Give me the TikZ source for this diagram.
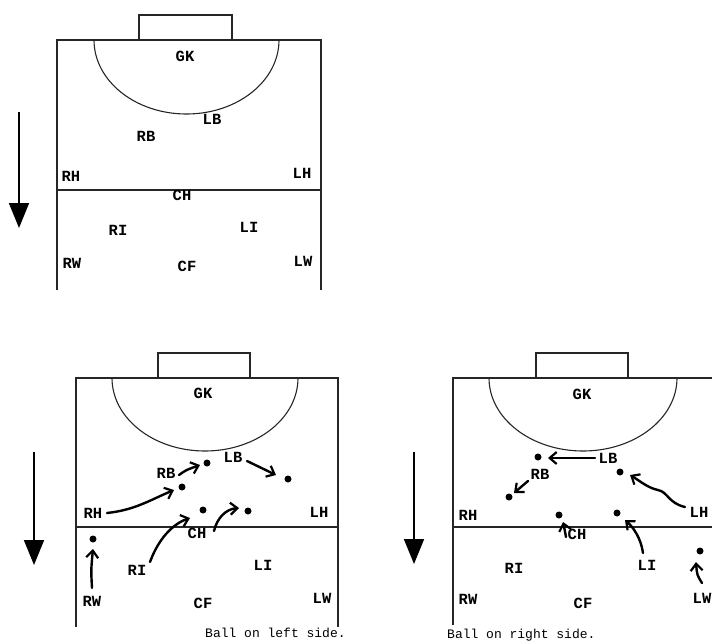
\documentclass[tikz,border=0pt]{standalone}
\usepackage{fontspec}
\setmonofont{Liberation Mono}
\usetikzlibrary{arrows.meta}
\begin{document}
\begin{tikzpicture}[x=1pt,y=-1pt,
  lbl/.style={font=\ttfamily\bfseries\fontsize{15.5}{17}\selectfont, inner sep=0pt},
  captxt/.style={font=\ttfamily\fontsize{13}{15}\selectfont, inner sep=0pt, anchor=west},
  field/.style={line width=1.1pt, draw=black!85},
  dot/.style={circle, fill=black, inner sep=0pt, minimum size=7pt},
  mv/.style={line width=2.4pt, line cap=round, -{Straight Barb[length=7pt,width=12pt,line width=2.2pt]}},
  dirarrow/.style={line width=1.7pt, -{Triangle[length=25pt,width=20pt]}}]
\useasboundingbox (0,0) rectangle (712,641);

% ================= top diagram =================
\draw[field] (139,40) -- (139,15) -- (232,15) -- (232,40);
\draw[field] (57,290) -- (57,40) -- (321,40) -- (321,290);
\draw[field] (57,190) -- (321,190);
\draw[field] (94,40) arc[start angle=180,end angle=360,x radius=92.5pt,y radius=74pt];
\coordinate (a1s) at (19,112); \coordinate (a1e) at (19,228);
\draw[dirarrow] (a1s) -- (a1e);
\node[lbl] (tGK) at (185,56) {GK};
\node[lbl] (tLB) at (212,119) {LB};
\node[lbl] (tRB) at (146,136) {RB};
\node[lbl] (tRH) at (71,176) {RH};
\node[lbl] (tLH) at (302,173) {LH};
\node[lbl] (tCH) at (182,195) {CH};
\node[lbl] (tRI) at (118,230) {RI};
\node[lbl] (tLI) at (249,227) {LI};
\node[lbl] (tRW) at (72,263) {RW};
\node[lbl] (tCF) at (187,266) {CF};
\node[lbl] (tLW) at (303,261) {LW};

% ================= bottom left =================
\draw[field] (158,378) -- (158,353) -- (250,353) -- (250,378);
\draw[field] (76,627) -- (76,378) -- (338,378) -- (338,627);
\draw[field] (76,527) -- (338,527);
\draw[field] (112,378) arc[start angle=180,end angle=360,x radius=93pt,y radius=73pt];
\coordinate (a2s) at (34,452); \coordinate (a2e) at (34,565);
\draw[dirarrow] (a2s) -- (a2e);
\node[lbl] (lGK) at (203,393) {GK};
\node[lbl] (lLB) at (233,457) {LB};
\node[lbl] (lRB) at (166,473) {RB};
\node[lbl] (lRH) at (93,513) {RH};
\node[lbl] (lLH) at (319,512) {LH};
\node[lbl] (lCH) at (197,533) {CH};
\node[lbl] (lRI) at (137,570) {RI};
\node[lbl] (lLI) at (263,565) {LI};
\node[lbl] (lRW) at (92,601) {RW};
\node[lbl] (lCF) at (203,603) {CF};
\node[lbl] (lLW) at (322,598) {LW};
\node[dot] (ld1) at (207,463) {};
\node[dot] (ld2) at (182,487) {};
\node[dot] (ld3) at (203,510) {};
\node[dot] (ld4) at (248,511) {};
\node[dot] (ld5) at (288,479) {};
\node[dot] (ld6) at (93,539) {};
\coordinate (lrbs) at (179,475); \coordinate (lrbe) at (200,465);
\coordinate (llbs) at (247,461); \coordinate (llbe) at (276,475);
\coordinate (lrhs) at (107,513); \coordinate (lrhe) at (174,490);
\coordinate (lris) at (150,562); \coordinate (lrie) at (190,518);
\coordinate (lchs) at (214,531); \coordinate (lche) at (239,508);
\coordinate (lrws) at (92,588); \coordinate (lrwe) at (93,549);
\draw[mv] (lrbs) .. controls (186,470) .. (lrbe);
\draw[mv] (llbs) -- (llbe);
\draw[mv] (lrhs) .. controls (135,510) and (150,500) .. (lrhe);
\draw[mv] (lris) .. controls (158,540) and (172,524) .. (lrie);
\draw[mv] (lchs) .. controls (217,518) and (226,509) .. (lche);
\draw[mv] (lrws) .. controls (91,570) .. (lrwe);
\node[captxt] (lcap) at (205,633) {Ball on left side.};

% ================= bottom right =================
\draw[field] (536,378) -- (536,353) -- (628,353) -- (628,378);
\draw[field] (453,625) -- (453,378) -- (712,378);
\draw[field] (453,527) -- (712,527);
\draw[field] (489,378) arc[start angle=180,end angle=360,x radius=94pt,y radius=73pt];
\coordinate (a3s) at (414,452); \coordinate (a3e) at (414,564);
\draw[dirarrow] (a3s) -- (a3e);
\node[lbl] (rGK) at (582,394) {GK};
\node[lbl] (rLB) at (608,458) {LB};
\node[lbl] (rRB) at (540,474) {RB};
\node[lbl] (rRH) at (468,515) {RH};
\node[lbl] (rLH) at (699,512) {LH};
\node[lbl] (rCH) at (577,534) {CH};
\node[lbl] (rRI) at (514,568) {RI};
\node[lbl] (rLI) at (647,565) {LI};
\node[lbl] (rRW) at (468,599) {RW};
\node[lbl] (rCF) at (583,603) {CF};
\node[lbl] (rLW) at (702,598) {LW};
\node[dot] (rd1) at (538,457) {};
\node[dot] (rd2) at (620,472) {};
\node[dot] (rd3) at (509,497) {};
\node[dot] (rd4) at (559,515) {};
\node[dot] (rd5) at (617,513) {};
\node[dot] (rd6) at (700,551) {};
\coordinate (rlbs) at (595,458); \coordinate (rlbe) at (548,458);
\coordinate (rrbs) at (528,481); \coordinate (rrbe) at (514,493);
\coordinate (rlhs) at (685,507); \coordinate (rlhe) at (630,475);
\coordinate (rchs) at (566,537); \coordinate (rche) at (563,522);
\coordinate (rlis) at (643,553); \coordinate (rlie) at (625,520);
\coordinate (rlws) at (702,583); \coordinate (rlwe) at (696,562);
\draw[mv] (rlbs) -- (rlbe);
\draw[mv] (rrbs) -- (rrbe);
\draw[mv] (rlhs) .. controls (668,503) and (668,492) .. (658,490) .. controls (648,488) and (640,481) .. (rlhe);
\draw[mv] (rchs) .. controls (565,530) .. (rche);
\draw[mv] (rlis) .. controls (641,538) and (633,527) .. (rlie);
\draw[mv] (rlws) .. controls (697,575) .. (rlwe);
\node[captxt] (rcap) at (447,635) {Ball on right side.};
\end{tikzpicture}
\end{document}
